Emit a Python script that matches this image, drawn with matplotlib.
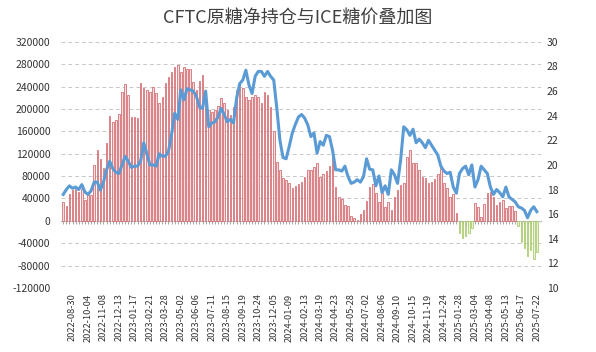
import matplotlib.pyplot as plt
import numpy as np

plt.rcParams['font.family'] = ['Noto Sans CJK SC', 'DejaVu Sans']
plt.rcParams['axes.unicode_minus'] = False

# CFTC 原糖净持仓 (手), 周度
net_pos = [34000, 26000, 48000, 55000, 57000, 52000, 57000, 37000, 46000, 46000,
           100000, 126000, 111000, 94000, 139000, 187000, 177000, 180000, 191000, 231000,
           244000, 225000, 186000, 185000, 183000, 246000, 237000, 234000, 231000, 240000,
           228000, 210000, 222000, 246000, 258000, 267000, 275000, 279000, 267000, 275000,
           272000, 272000, 249000, 234000, 250000, 261000, 214000, 198000, 195000, 198000,
           205000, 219000, 210000, 198000, 189000, 204000, 234000, 243000, 237000, 222000,
           216000, 222000, 225000, 222000, 210000, 231000, 225000, 204000, 160000, 106000,
           91000, 77000, 73000, 67000, 58000, 63000, 65000, 70000, 79000, 91000,
           91000, 96000, 103000, 79000, 83000, 89000, 98000, 118000, 61000, 43000,
           39000, 29000, 27000, 8000, 5000, 1000, 12000, 20000, 36000, 61000,
           66000, 49000, 34000, 49000, 25000, 34000, 20000, 43000, 55000, 64000,
           67000, 115000, 127000, 103000, 103000, 91000, 79000, 76000, 67000, 70000,
           74000, 83000, 94000, 67000, 58000, 43000, 48000, 14000, -22000, -31000,
           -28000, -22000, -13000, 31600, 24000, 7700, 30000, 49500, 52000, 43000,
           28500, 33000, 37500, 22700, 27000, 27000, 18000, -10000, -38000, -48000,
           -62000, -52000, -68000, -55000]

# ICE 原糖价格 (美分/磅)
price = [17.6, 18.0, 18.3, 18.1, 18.2, 18.0, 18.4, 17.8, 17.6, 17.9,
         18.6, 18.6, 17.95, 18.6, 19.6, 20.3, 19.7, 19.4, 19.3, 20.0,
         20.7, 20.3, 19.8, 19.9, 19.9, 20.3, 21.8, 20.9, 20.0, 20.0,
         19.9, 20.9, 20.7, 20.7, 21.1, 22.5, 24.2, 23.7, 26.1, 25.3,
         26.2, 26.1, 26.0, 25.6, 24.7, 24.6, 26.0, 23.1, 23.4, 23.5,
         23.9, 24.6, 24.1, 23.5, 23.7, 23.4, 25.4, 26.6, 26.9, 27.7,
         26.5, 25.8, 27.2, 27.6, 27.6, 27.2, 27.6, 27.2, 26.9, 24.6,
         22.0, 20.6, 20.5, 21.5, 22.6, 23.3, 23.9, 24.1, 23.8, 23.25,
         22.3, 22.6, 20.95, 21.9, 21.6, 22.4, 22.3, 21.2, 19.6, 19.6,
         19.5, 19.9, 19.05, 18.5, 18.6, 18.8, 18.6, 19.05, 20.5, 19.65,
         19.6, 18.3, 19.1, 17.75, 18.3, 17.6, 19.6, 19.2, 18.5, 20.4,
         23.1, 22.85, 22.4, 22.9, 21.8, 22.1, 21.8, 21.4, 22.0, 21.6,
         21.2, 20.8, 19.9, 19.5, 19.3, 19.4, 18.2, 17.7, 19.3, 19.7,
         19.9, 19.2, 20.0, 18.2, 18.8, 19.9, 19.6, 19.3, 18.2, 17.6,
         18.0, 17.75, 17.4, 18.2, 17.4, 17.2, 17.0, 16.6, 16.5, 16.3,
         15.7, 16.3, 16.6, 16.2]

tick_dates = ['2022-08-30', '2022-10-04', '2022-11-08', '2022-12-13', '2023-01-17',
              '2023-02-21', '2023-03-28', '2023-05-02', '2023-06-06', '2023-07-11',
              '2023-08-15', '2023-09-19', '2023-10-24', '2023-12-05', '2024-01-09',
              '2024-02-13', '2024-03-19', '2024-04-23', '2024-05-28', '2024-07-02',
              '2024-08-06', '2024-09-10', '2024-10-15', '2024-11-19', '2024-12-24',
              '2025-01-28', '2025-03-04', '2025-04-08', '2025-05-13', '2025-06-17',
              '2025-07-22']

net_pos = np.array(net_pos)
x = np.arange(len(net_pos))

fig = plt.figure(figsize=(5.96, 3.52), dpi=100)
ax = fig.add_axes([0.103, 0.182, 0.805, 0.699])

pos = net_pos >= 0
ax.bar(x[pos], net_pos[pos], width=0.5, color='#f7dede', edgecolor='#d2666c', linewidth=0.55)
ax.bar(x[~pos], net_pos[~pos], width=0.5, color='#eaf3da', edgecolor='#a2c962', linewidth=0.55)

ax.set_ylim(-120000, 320000)
ax.set_yticks(np.arange(-120000, 320001, 40000))
ax.set_xlim(-0.6, len(x) + 0.4)
ax.grid(axis='y', color='#c8c8c8', linestyle=(0, (4, 3)), linewidth=0.7)
ax.set_axisbelow(True)
for s in ax.spines.values():
    s.set_visible(False)
ax.tick_params(axis='y', length=0, labelsize=7.5, colors='#333333', pad=8)

# category labels at the bottom
lab_idx = np.arange(3, len(x), 5)
ax.set_xticks(lab_idx)
ax.set_xticklabels(tick_dates, rotation=90, fontsize=6.7, color='#333333')
ax.tick_params(axis='x', length=0, pad=4)

# axis line through zero with small ticks
zero_frac = 120000 / 440000
sec = ax.secondary_xaxis(zero_frac)
sec.set_xticks(x)
sec.set_xticklabels([])
sec.tick_params(axis='x', direction='out', length=2.5, width=0.6, colors='#999999')
sec.spines['bottom'].set_color('#aaaaaa')
sec.spines['top'].set_visible(False)
sec.xaxis.set_ticks_position('bottom')

ax2 = ax.twinx()
ax2.plot(x, price, color='#5b9bd5', linewidth=2.2)
ax2.set_ylim(10, 30)
ax2.set_yticks(np.arange(10, 31, 2))
for s in ax2.spines.values():
    s.set_visible(False)
ax2.tick_params(axis='y', length=0, labelsize=7.5, colors='#333333', pad=4)

fig.suptitle('CFTC原糖净持仓与ICE糖价叠加图', fontsize=13, color='#404040', y=0.975)

fig.savefig('out.png', dpi=100)
